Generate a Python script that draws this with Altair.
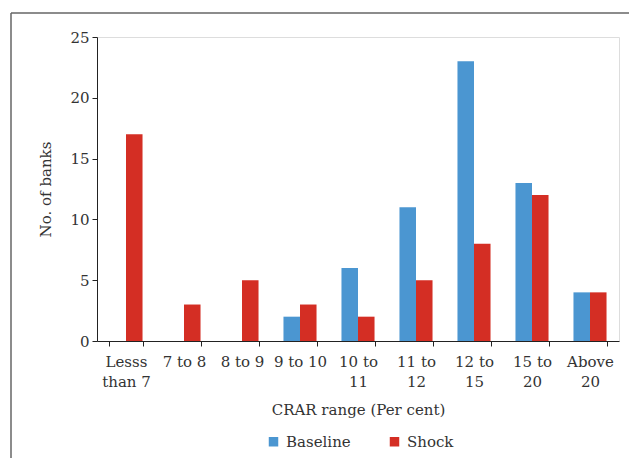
import altair as alt
import pandas as pd

categories = ["Lesss\nthan 7", "7 to 8", "8 to 9", "9 to 10", "10 to\n11",
              "11 to\n12", "12 to\n15", "15 to\n20", "Above\n20"]
baseline = [0, 0, 0, 2, 6, 11, 23, 13, 4]
shock = [17, 3, 5, 3, 2, 5, 8, 12, 4]
series = ["Baseline", "Shock"]
colors = ["#4B96D1", "#D42E24"]

rows = []
for c, b, s in zip(categories, baseline, shock):
    rows.append({"range": c, "series": "Baseline", "banks": b})
    rows.append({"range": c, "series": "Shock", "banks": s})
df = pd.DataFrame(rows)

FONT = "DejaVu Serif"
W, H = 522, 304

bars = alt.Chart(df).mark_bar().encode(
    x=alt.X("range:N", sort=categories,
            scale=alt.Scale(paddingInner=0.43, paddingOuter=0.215),
            axis=alt.Axis(title="CRAR range (Per cent)", labelAngle=0,
                          tickBand="extent", labelExpr="split(datum.label, '\\n')",
                          labelLineHeight=20, labelPadding=8, titlePadding=13,
                          tickSize=5, labelFontSize=15, titleFontSize=15,
                          labelFont=FONT, titleFont=FONT, labelColor="#333",
                          titleColor="#333", domainColor="#222", tickColor="#222",
                          titleFontWeight="normal")),
    xOffset=alt.XOffset("series:N", sort=series, scale=alt.Scale(paddingInner=0)),
    y=alt.Y("banks:Q", scale=alt.Scale(domain=[0, 25]),
            axis=alt.Axis(title="No. of banks", values=[0, 5, 10, 15, 20, 25],
                          grid=False, tickSize=5, labelPadding=3, titlePadding=16,
                          labelFontSize=15, titleFontSize=15, labelFont=FONT,
                          titleFont=FONT, labelColor="#333", titleColor="#333",
                          domainColor="#222", tickColor="#222",
                          titleFontWeight="normal")),
    color=alt.Color("series:N", sort=series,
                    scale=alt.Scale(domain=series, range=colors),
                    legend=alt.Legend(title=None, orient="none", direction="horizontal",
                                      legendX=169, legendY=397, symbolType="square",
                                      symbolSize=90, labelFontSize=15, labelFont=FONT,
                                      labelColor="#333", labelOffset=5,
                                      columnPadding=36, padding=0,
                                      symbolStrokeWidth=0)),
)

one = alt.Data(values=[{}])
frame_left = alt.Chart(one).mark_rule(color="#666", strokeWidth=1.5, clip=False).encode(
    x=alt.value(-86), y=alt.value(-24), y2=alt.value(H + 200))
frame_top = alt.Chart(one).mark_rule(color="#666", strokeWidth=1.5, clip=False).encode(
    y=alt.value(-24), x=alt.value(-86), x2=alt.value(W + 200))

chart = alt.layer(frame_left, frame_top, bars).properties(
    width=W, height=H,
    padding={"left": 97, "top": 37, "right": 10, "bottom": 117},
    autosize=alt.AutoSizeParams(type="none"),
).configure_view(stroke=None).configure(background="white")

chart.save("out.html", embed_options={"renderer": "svg", "actions": False})
